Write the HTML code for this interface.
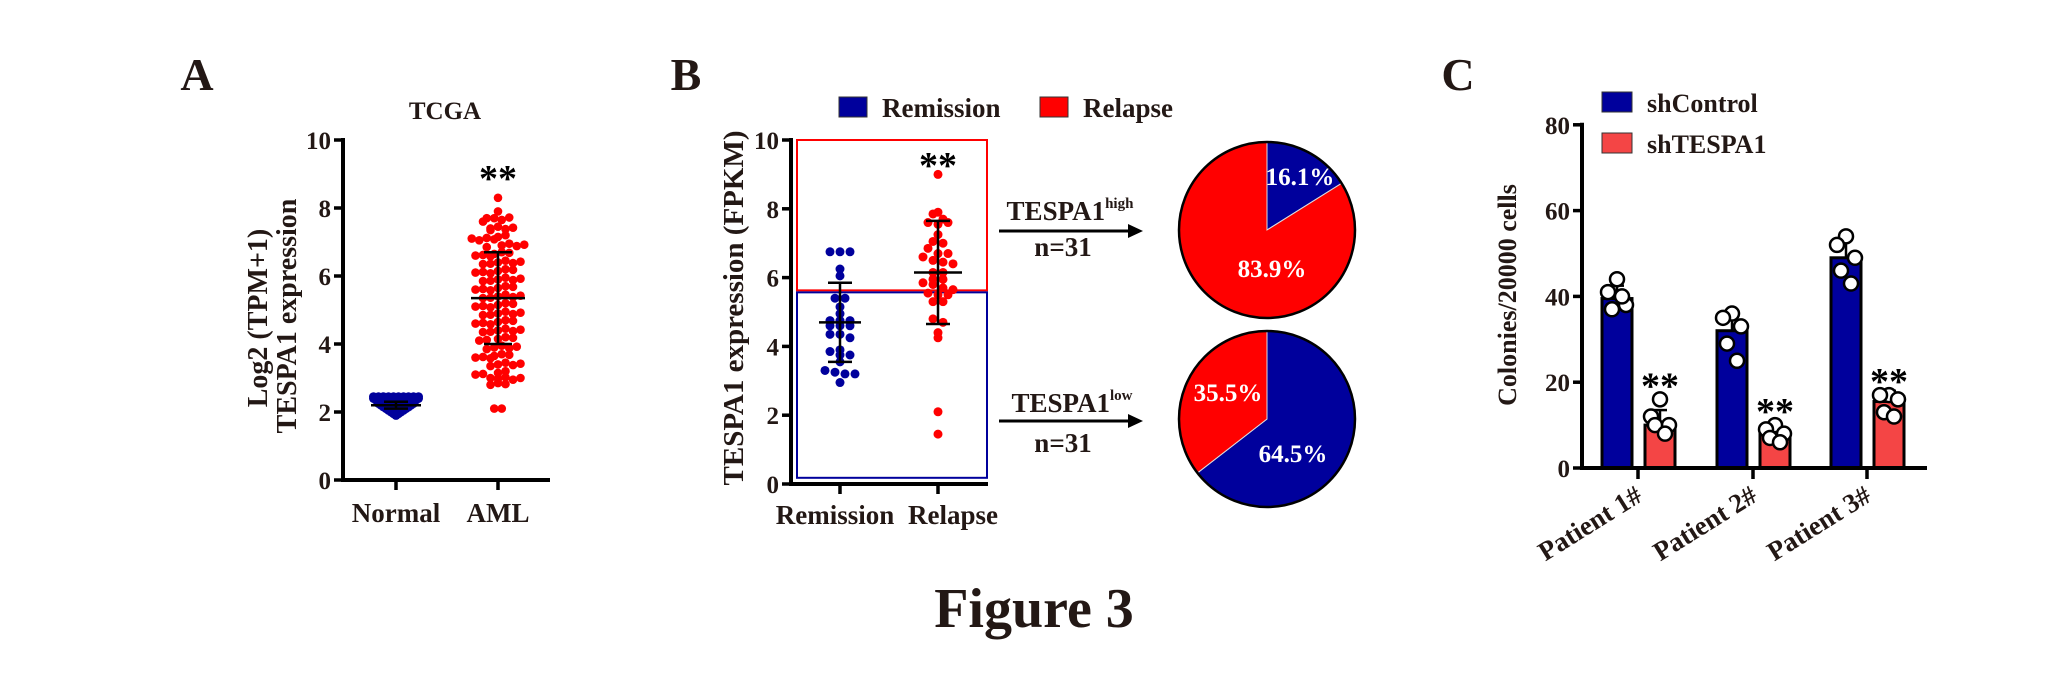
<!DOCTYPE html>
<html><head><meta charset="utf-8"><style>
html,body{margin:0;padding:0;background:#fff;}
svg{display:block;font-family:"Liberation Serif",serif;font-weight:bold;}
</style></head><body>
<svg id="fig" width="2068" height="682" viewBox="0 0 2068 682" xmlns="http://www.w3.org/2000/svg">
<rect width="2068" height="682" fill="#fff"/>
<text x="197" y="90" font-size="46" text-anchor="middle" fill="#231815">A</text>
<text x="686" y="90" font-size="46" text-anchor="middle" fill="#231815">B</text>
<text x="1458" y="90" font-size="46" text-anchor="middle" fill="#231815">C</text>
<text x="445" y="119" font-size="25" text-anchor="middle" fill="#231815">TCGA</text>
<text transform="translate(267,318) rotate(-90)" font-size="28" text-anchor="middle" fill="#231815">Log2 (TPM+1)</text>
<text transform="translate(296,316) rotate(-90)" font-size="28" text-anchor="middle" fill="#231815">TESPA1 expression</text>
<text transform="translate(743,308) rotate(-90)" font-size="29" text-anchor="middle" fill="#231815">TESPA1 expression (FPKM)</text>
<text transform="translate(1516,295) rotate(-90)" font-size="26" text-anchor="middle" fill="#231815">Colonies/20000 cells</text>
<g>
<rect x="839" y="97" width="28" height="20" fill="#00009c" stroke="#333" stroke-width="1"/>
<text x="882" y="117" font-size="27" fill="#231815">Remission</text>
<rect x="1040" y="97" width="28" height="20" fill="#ff0000" stroke="#333" stroke-width="1"/>
<text x="1083" y="117" font-size="27" fill="#231815">Relapse</text>
</g>
<g>
<rect x="1602" y="92" width="30" height="20" fill="#00009c" stroke="#333" stroke-width="1"/>
<text x="1647" y="112" font-size="26" fill="#231815">shControl</text>
<rect x="1602" y="133" width="30" height="20" fill="#f44545" stroke="#333" stroke-width="1"/>
<text x="1647" y="153" font-size="26" fill="#231815">shTESPA1</text>
</g>
<g>
<line x1="999" y1="231" x2="1128" y2="231" stroke="#000" stroke-width="3"/>
<polygon points="1128,224 1143,231 1128,238" fill="#000"/>
<text x="1070" y="220" font-size="27" text-anchor="middle" fill="#231815">TESPA1<tspan font-size="15" dy="-12">high</tspan></text>
<text x="1063" y="256" font-size="27" text-anchor="middle" fill="#231815">n=31</text>
</g>
<g>
<line x1="999" y1="421" x2="1128" y2="421" stroke="#000" stroke-width="3"/>
<polygon points="1128,414 1143,421 1128,428" fill="#000"/>
<text x="1072" y="412" font-size="27" text-anchor="middle" fill="#231815">TESPA1<tspan font-size="15" dy="-12">low</tspan></text>
<text x="1063" y="452" font-size="27" text-anchor="middle" fill="#231815">n=31</text>
</g>
<text x="1034" y="627" font-size="56" text-anchor="middle" fill="#231815">Figure 3</text>
</svg>
<script>
// ---- Panel A data ----
const aCats = ['Normal', 'AML'];
const aTicks = [0, 2, 4, 6, 8, 10];
const aNormal = [2.45,2.45,2.45,2.45,2.45,2.45,2.45,2.45,2.45,2.45,
 2.4,2.4,2.4,2.4,2.4,2.4,2.4,2.4,2.4,2.4,
 2.35,2.35,2.35,2.35,2.35,2.35,2.35,2.35,2.35,
 2.3,2.3,2.3,2.3,2.3,2.3,2.3,2.3,
 2.25,2.25,2.25,2.25,2.25,2.25,2.25,2.25,
 2.2,2.2,2.2,2.2,2.2,2.2,2.2,
 2.15,2.15,2.15,2.15,2.15,2.15,
 2.1,2.1,2.1,2.1,2.1,
 2.05,2.05,2.05,2.05,
 2.0,2.0,2.0,
 1.95,1.95,
 1.9];
const aAml = [8.3,7.9,7.7,7.7,7.6,7.65,7.72,7.4,7.35,7.45,7.38,7.42,
 7.1,7.15,7.05,7.2,7.12,7.08,6.9,6.85,6.95,6.88,6.92,
 6.65,6.6,6.7,6.62,6.68,6.58,6.4,6.35,6.45,6.38,6.42,6.36,
 6.15,6.1,6.2,6.12,6.18,6.08,5.9,5.85,5.95,5.88,5.92,5.86,
 5.65,5.6,5.7,5.62,5.68,5.58,5.4,5.35,5.45,5.38,5.42,5.36,
 5.15,5.1,5.2,5.12,5.18,5.08,4.9,4.85,4.95,4.88,4.92,4.86,
 4.65,4.6,4.7,4.62,4.68,4.58,4.4,4.35,4.45,4.38,4.42,4.36,
 4.15,4.1,4.2,4.12,4.18,3.9,3.85,3.95,3.88,3.92,
 3.65,3.6,3.7,3.62,3.68,3.58,3.4,3.35,3.45,3.38,3.42,
 3.15,3.1,3.2,3.12,3.0,2.98,3.02,2.95,3.0,2.8,2.85,2.82,2.1,2.1];
const aMean = [2.2, 5.35];
const aSD = [0.1, 1.35];
// ---- Panel B data ----
const bCats = ['Remission', 'Relapse'];
const bTicks = [0, 2, 4, 6, 8, 10];
const bRemission = [6.75,6.75,6.75,6.25,6.05,5.4,5.4,5.15,4.95,4.75,4.75,4.75,4.6,4.6,4.6,4.35,4.35,4.25,3.9,3.85,3.75,3.75,3.55,3.3,3.25,3.2,3.2,2.95];
const bRelapse = [9.0,7.9,7.85,7.7,7.6,7.55,7.6,7.25,7.05,7.0,6.85,6.7,6.7,6.6,6.5,6.45,6.4,6.15,6.15,5.95,5.95,5.85,5.8,5.7,5.65,5.55,5.5,5.5,5.3,5.3,4.8,4.7,4.4,4.25,2.1,1.45];
const bMean = [4.7, 6.15];
const bSD = [1.15, 1.5];
const bCut = 5.6;
// ---- Pie data ----
const pieHigh = [16.1, 83.9];      // remission, relapse
const pieLow = [64.5, 35.5];       // remission, relapse
// ---- Panel C data ----
const cCats = ['Patient 1#', 'Patient 2#', 'Patient 3#'];
const cTicks = [0, 20, 40, 60, 80];
const cCtrl = [39.5, 32, 49];
const cKd = [10, 8, 15.5];
const cCtrlSD = [3, 4, 4.5];
const cKdSD = [3.5, 1.5, 2.5];
const cCtrlPts = [[44,41,38,37,40],[36,35,33,29,25],[54,52,49,46,43]];
const cKdPts = [[16,12,10,10,8],[10,9,8,7,6],[17,17,16,13,12]];

const NS = 'http://www.w3.org/2000/svg';
const svg = document.getElementById('fig');
function mk(tag, attrs, parent) {
  const e = document.createElementNS(NS, tag);
  for (const k in attrs) e.setAttribute(k, attrs[k]);
  (parent || svg).appendChild(e);
  return e;
}
const BLUE = '#00009c', RED = '#ff0000', CRED = '#f44545', INK = '#231815';

function swarm(vals, cx, yfn, binStep, xStep, r, color, g) {
  const bins = {};
  vals.forEach(v => { const k = Math.round(v / binStep); (bins[k] = bins[k] || []).push(v); });
  Object.keys(bins).forEach(k => {
    const arr = bins[k], n = arr.length;
    arr.forEach((v, i) => {
      const c = mk('circle', {cx: cx + (i - (n - 1) / 2) * xStep, cy: yfn(v), r: r, fill: color}, g);
      
      
    });
  });
}
function errBar(cx, yfn, m, sd, capW, meanW, g) {
  mk('line', {x1: cx, x2: cx, y1: yfn(m - sd), y2: yfn(m + sd), stroke: '#000', 'stroke-width': 2.5}, g);
  mk('line', {x1: cx - capW, x2: cx + capW, y1: yfn(m - sd), y2: yfn(m - sd), stroke: '#000', 'stroke-width': 2.5}, g);
  mk('line', {x1: cx - capW, x2: cx + capW, y1: yfn(m + sd), y2: yfn(m + sd), stroke: '#000', 'stroke-width': 2.5}, g);
  mk('line', {x1: cx - meanW, x2: cx + meanW, y1: yfn(m), y2: yfn(m), stroke: '#000', 'stroke-width': 2.5}, g);
}
function yAxis(x, yfn, ticks, top, g, name) {
  const ax = mk('line', {x1: x, x2: x, y1: yfn(ticks[ticks.length - 1]) - 2, y2: yfn(0) + 2, stroke: '#000', 'stroke-width': 4}, g);
  
  
  ticks.forEach(t => {
    mk('line', {x1: x - 9, x2: x, y1: yfn(t), y2: yfn(t), stroke: '#000', 'stroke-width': 3.5}, g);
    const tx = mk('text', {x: x - 12, y: yfn(t) + 9, 'font-size': 25, 'text-anchor': 'end', fill: INK}, g);
    tx.textContent = t;
    
    
  });
}

// ===== Panel A =====
const gA = mk('g', {});


const yA = v => 480 - v * 34;
const xA = [396, 498];
swarm(aNormal, xA[0], yA, 0.05, 5, 4.5, BLUE, gA);
swarm(aAml, xA[1], yA, 0.25, 7.5, 4.3, RED, gA);
errBar(xA[0], yA, aMean[0], aSD[0], 12, 25, gA);
errBar(xA[1], yA, aMean[1], aSD[1], 14, 27, gA);
yAxis(343, yA, aTicks, 0, gA, 'panel-a-y-axis');
const axA = mk('line', {x1: 341, x2: 550, y1: yA(0), y2: yA(0), stroke: '#000', 'stroke-width': 4}, gA);


aCats.forEach((c, i) => {
  mk('line', {x1: xA[i], x2: xA[i], y1: yA(0), y2: yA(0) + 10, stroke: '#000', 'stroke-width': 3.5}, gA);
  const t = mk('text', {x: xA[i], y: 522, 'font-size': 27, 'text-anchor': 'middle', fill: INK}, gA);
  t.textContent = c;
  
  
});
const sA = mk('text', {x: xA[1], y: 191, 'font-size': 38, 'text-anchor': 'middle', fill: '#000'}, gA);
sA.textContent = '**';



// ===== Panel B =====
const gB = mk('g', {});


const yB = v => 484 - v * 34.4;
const xB = [840, 938];
const rr = mk('rect', {x: 797, y: yB(10), width: 190, height: yB(bCut) - yB(10) - 1, fill: 'none', stroke: RED, 'stroke-width': 2}, gB);


const br = mk('rect', {x: 797, y: yB(bCut) + 1, width: 190, height: yB(0.18) - yB(bCut) - 1, fill: 'none', stroke: BLUE, 'stroke-width': 2}, gB);


swarm(bRemission, xB[0], yB, 0.25, 10, 4.5, BLUE, gB);
swarm(bRelapse, xB[1], yB, 0.25, 10, 4.5, RED, gB);
errBar(xB[0], yB, bMean[0], bSD[0], 12, 21, gB);
errBar(xB[1], yB, bMean[1], bSD[1], 12, 24, gB);
yAxis(791, yB, bTicks, 0, gB, 'panel-b-y-axis');
const axB = mk('line', {x1: 789, x2: 988, y1: yB(0), y2: yB(0), stroke: '#000', 'stroke-width': 4}, gB);


const bLabX = [835, 953];
bCats.forEach((c, i) => {
  mk('line', {x1: xB[i], x2: xB[i], y1: yB(0), y2: yB(0) + 10, stroke: '#000', 'stroke-width': 3.5}, gB);
  const t = mk('text', {x: bLabX[i], y: 524, 'font-size': 27, 'text-anchor': 'middle', fill: INK}, gB);
  t.textContent = c;
  
  
});
const sB = mk('text', {x: xB[1], y: 178, 'font-size': 38, 'text-anchor': 'middle', fill: '#000'}, gB);
sB.textContent = '**';



// ===== Pies =====
function pie(vals, cx, cy, r, labelPos, name) {
  const g = mk('g', {});
  
  
  const total = vals.reduce((a, b) => a + b, 0);
  let a0 = -Math.PI / 2;
  const cols = [BLUE, RED];
  vals.forEach((v, i) => {
    const a1 = a0 + v / total * 2 * Math.PI;
    const large = (a1 - a0) > Math.PI ? 1 : 0;
    const p = mk('path', {d: `M${cx},${cy} L${cx + r * Math.cos(a0)},${cy + r * Math.sin(a0)} A${r},${r} 0 ${large} 1 ${cx + r * Math.cos(a1)},${cy + r * Math.sin(a1)} Z`, fill: cols[i], stroke: '#ddd', 'stroke-width': 1}, g);
    
    
    const t = mk('text', {x: labelPos[i][0], y: labelPos[i][1], 'font-size': 25, 'text-anchor': 'middle', fill: '#fff'}, g);
    t.textContent = v.toFixed(1) + '%';
    
    
    a0 = a1;
  });
  mk('circle', {cx: cx, cy: cy, r: r, fill: 'none', stroke: '#000', 'stroke-width': 2.5}, g);
}
pie(pieHigh, 1267, 230, 88, [[1300, 185], [1272, 277]], 'pie-high');
pie(pieLow, 1267, 419, 88, [[1293, 462], [1228, 401]], 'pie-low');

// ===== Panel C =====
const gC = mk('g', {});


const yC = v => 468 - v * 4.29;
const xC = [1638, 1753, 1867];
const jit = [0, -9, 9, -5, 5];
function cBar(cx, val, sd, pts, fill, g, name) {
  const b = mk('rect', {x: cx - 15, y: yC(val), width: 30, height: yC(0) - yC(val), fill: fill, stroke: '#000', 'stroke-width': 3}, g);
  
  
  mk('line', {x1: cx, x2: cx, y1: yC(val), y2: yC(val + sd), stroke: '#000', 'stroke-width': 2.5}, g);
  mk('line', {x1: cx - 7, x2: cx + 7, y1: yC(val + sd), y2: yC(val + sd), stroke: '#000', 'stroke-width': 2.5}, g);
  pts.forEach((p, k) => {
    const c = mk('circle', {cx: cx + jit[k], cy: yC(p), r: 7, fill: '#fff', stroke: '#000', 'stroke-width': 2.5}, g);
    
    
  });
}
cCats.forEach((c, i) => {
  cBar(xC[i] - 21, cCtrl[i], cCtrlSD[i], cCtrlPts[i], BLUE, gC, 'bar-shcontrol');
  cBar(xC[i] + 22, cKd[i], cKdSD[i], cKdPts[i], CRED, gC, 'bar-shtespa1');
  const s = mk('text', {x: xC[i] + 22, y: yC(Math.max(...cKdPts[i]) + 3.5) + 14, 'font-size': 38, 'text-anchor': 'middle', fill: '#000'}, gC);
  s.textContent = '**';
  
  
  mk('line', {x1: xC[i], x2: xC[i], y1: yC(0), y2: yC(0) + 11, stroke: '#000', 'stroke-width': 3.5}, gC);
  const t = mk('text', {transform: `translate(${xC[i] + 6},${500}) rotate(-32)`, 'font-size': 27, 'text-anchor': 'end', fill: INK}, gC);
  t.textContent = c;
  
  
});
yAxis(1582, yC, cTicks, 0, gC, 'panel-c-y-axis');
const axC = mk('line', {x1: 1580, x2: 1927, y1: yC(0), y2: yC(0), stroke: '#000', 'stroke-width': 4}, gC);


</script>
</body></html>
